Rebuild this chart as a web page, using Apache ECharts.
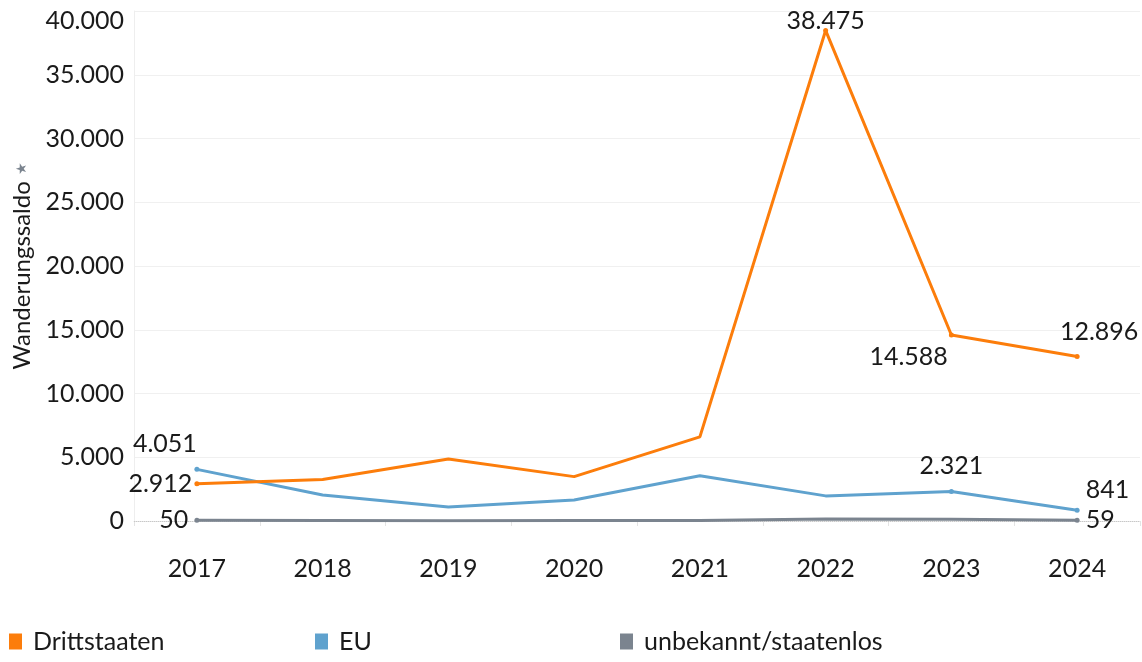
<!DOCTYPE html>
<html>
<head>
<meta charset="utf-8">
<script src="https://cdn.jsdelivr.net/npm/echarts@6/dist/echarts.min.js"></script>
<style>
  html, body { margin: 0; padding: 0; background: #fff; }
  #chart { width: 1142px; height: 662px; }
</style>
</head>
<body>
<div id="chart"></div>
<script>
var years = ['2017', '2018', '2019', '2020', '2021', '2022', '2023', '2024'];
var drittstaaten = [2912, 3250, 4870, 3480, 6600, 38475, 14588, 12896];
var eu = [4051, 2040, 1100, 1650, 3550, 1970, 2321, 841];
var unbekannt = [50, 40, 20, 30, 40, 150, 140, 59];
var yTicks = [0, 5000, 10000, 15000, 20000, 25000, 30000, 35000, 40000];

var FONT = 'Lato';
var TXT = '#1a1a1a';
var colors = { dritt: '#fc7d0b', eu: '#5fa2ce', unb: '#7b848f' };

function fmt(v) {
    return String(v).replace(/\B(?=(\d{3})+(?!\d))/g, '.');
}

// which points get a value label, and where
var labelStyles = {
    dritt: {
        0: { position: 'left', distance: 2 },
        5: { position: 'top', distance: -5 },
        6: { position: 'left', distance: 1, offset: [0, 22] },
        7: { position: 'top', distance: 10, offset: [22, 0] }
    },
    eu: {
        0: { position: 'top', distance: 10, offset: [-32, 0] },
        6: { position: 'top', distance: 10 },
        7: { position: 'right', distance: 6, offset: [0, -20] }
    },
    unb: {
        0: { position: 'left', distance: 6 },
        7: { position: 'right', distance: 6 }
    }
};

function buildData(values, key) {
    return values.map(function (v, i) {
        var ls = labelStyles[key][i];
        if (!ls) return { value: v, symbolSize: 0 };
        return {
            value: v,
            symbolSize: 5,
            label: Object.assign({
                show: true,
                formatter: function (p) { return fmt(p.value); },
                fontFamily: FONT,
                fontSize: 25,
                color: TXT
            }, ls)
        };
    });
}

function lineSeries(name, values, key, z) {
    return {
        name: name,
        type: 'line',
        data: buildData(values, key),
        symbol: 'circle',
        showSymbol: true,
        z: z,
        lineStyle: { width: 3, color: colors[key] },
        itemStyle: { color: colors[key] },
        emphasis: { disabled: true },
        animation: false
    };
}

var legendBase = {
    bottom: 3,
    icon: 'rect',
    itemWidth: 13,
    itemHeight: 16,
    itemGap: 0,
    textStyle: { fontFamily: FONT, fontSize: 25, color: TXT, padding: [0, 0, 0, 6] }
};

var series = [
    lineSeries('unbekannt/staatenlos', unbekannt, 'unb', 2),
    lineSeries('EU', eu, 'eu', 3),
    lineSeries('Drittstaaten', drittstaaten, 'dritt', 4)
];
series[0].markLine = {
    silent: true,
    symbol: 'none',
    label: { show: false },
    lineStyle: { type: 'dotted', color: '#c8c8c8', width: 1 },
    data: [{ yAxis: 0 }],
    z: 1
};

var myChart = echarts.init(document.getElementById('chart'));
myChart.setOption({
    backgroundColor: '#fff',
    animation: false,
    grid: { left: 134, right: 2, top: 11, bottom: 141 },
    legend: [
        Object.assign({ left: 4, data: ['Drittstaaten'] }, legendBase),
        Object.assign({ left: 310, data: ['EU'] }, legendBase),
        Object.assign({ left: 615, data: ['unbekannt/staatenlos'] }, legendBase)
    ],
    xAxis: {
        type: 'category',
        data: years,
        boundaryGap: true,
        offset: 28,
        axisLine: { show: true, lineStyle: { color: '#e4e4e4', width: 1 } },
        axisTick: { show: true, length: 5, lineStyle: { color: '#e4e4e4' } },
        axisLabel: { fontFamily: FONT, fontSize: 25, color: TXT, margin: 7 },
        splitLine: { show: false }
    },
    yAxis: {
        type: 'value',
        min: 0,
        max: 40000,
        interval: 5000,
        name: 'Wanderungssaldo {pin|★}',
        nameLocation: 'middle',
        nameRotate: 90,
        nameGap: 100,
        nameTextStyle: {
            fontFamily: FONT, fontSize: 24, color: TXT,
            rich: { pin: { fontSize: 14, color: '#7b848f', fontFamily: 'DejaVu Sans' } }
        },
        axisLine: { show: true, lineStyle: { color: '#eeeeee' } },
        axisTick: { show: false },
        axisLabel: {
            fontFamily: FONT, fontSize: 25, color: TXT, margin: 10,
            formatter: function (v) {
                if (yTicks.indexOf(v) < 0) return '';
                return v === 40000 ? '{t|' + fmt(v) + '}' : fmt(v);
            },
            rich: { t: { fontFamily: FONT, fontSize: 25, color: TXT, padding: [20, 0, 0, 0] } }
        },
        splitLine: { show: true, lineStyle: { color: '#f0f0f0', width: 1 } }
    },
    series: series
});
</script>
</body>
</html>
